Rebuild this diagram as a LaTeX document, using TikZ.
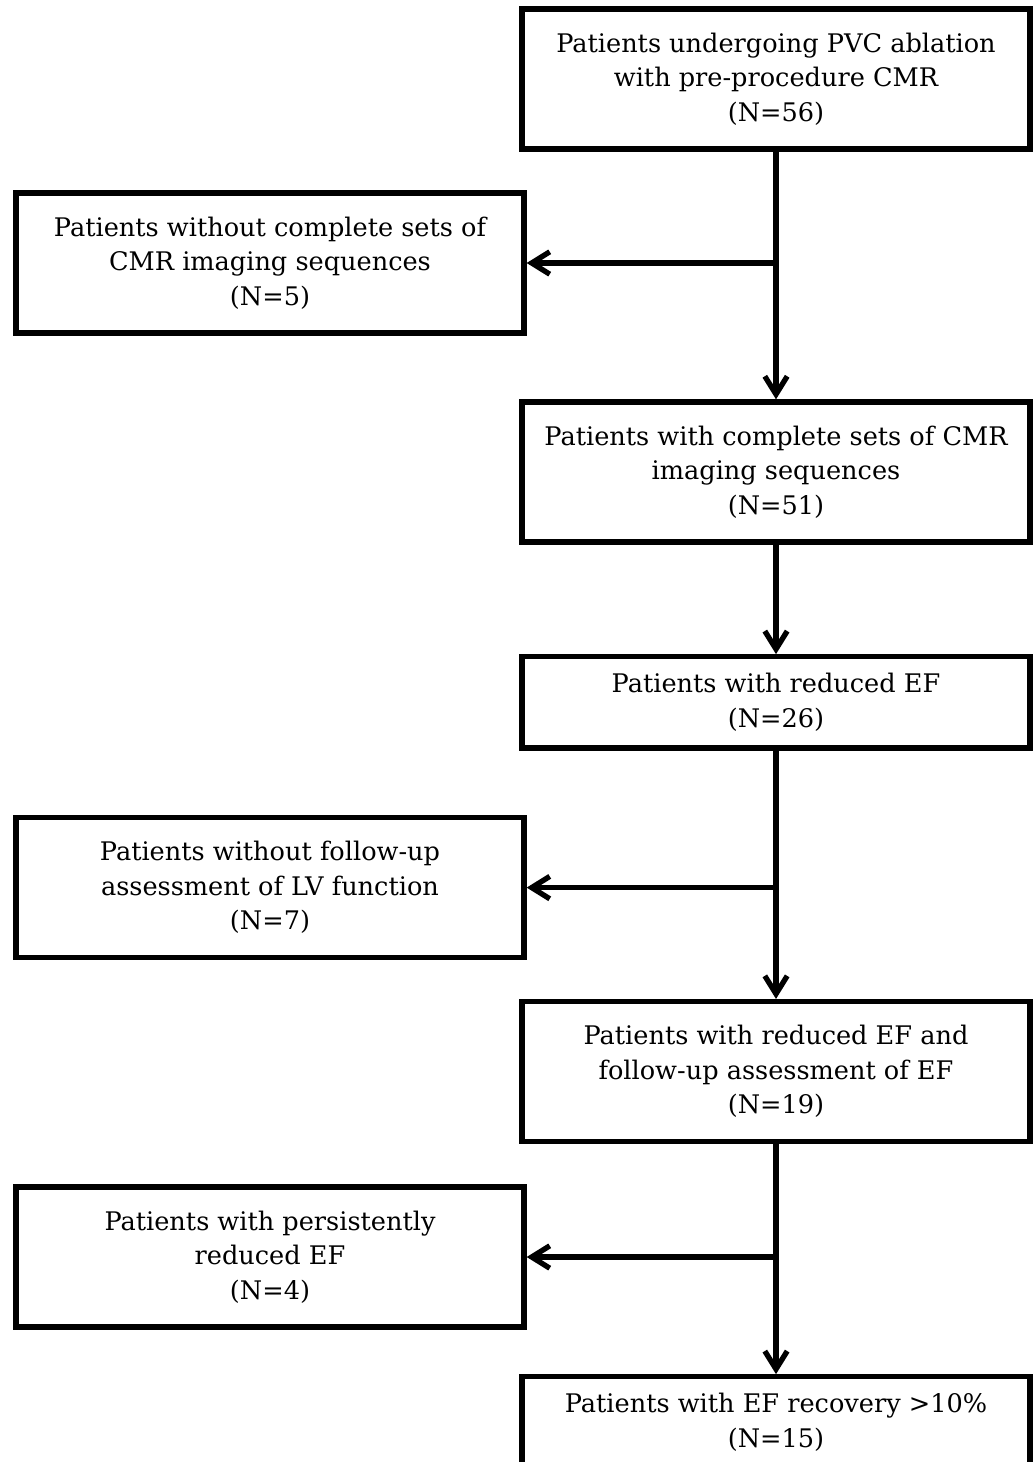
\documentclass[tikz,border=0pt]{standalone}
\usepackage{fontspec}
\setmainfont{DejaVu Serif}
\usetikzlibrary{arrows.meta}
\newcommand\boxWidth{12.7}
\newcommand\tallHeight{3.5}
\newcommand\shortHeight{2.28}
\newcommand\rightX{19.4}
\newcommand\leftX{6.75}
\newcommand\lineW{3.8pt}

\begin{document}
\begin{tikzpicture}[
    flowbox/.style={draw=black, line width=\lineW, fill=white, align=center,
      minimum width=\boxWidth cm, inner sep=0pt,
      font=\fontsize{18.2}{24.5}\selectfont},
    tallbox/.style={flowbox, minimum height=\tallHeight cm},
    shortbox/.style={flowbox, minimum height=\shortHeight cm},
    arr/.style={line width=\lineW, -{Straight Barb[length=0.45cm,width=0.56cm]}}
  ]
    \useasboundingbox (0,0) rectangle (25.8,-36.55);

    % main column
    \node[tallbox] (box1) at (\rightX,-1.975) {Patients undergoing PVC ablation\\with pre-procedure CMR\\(N=56)};
    \node[tallbox] (box3) at (\rightX,-11.8) {Patients with complete sets of CMR\\imaging sequences\\(N=51)};
    \node[shortbox] (box4) at (\rightX,-17.56) {Patients with reduced EF\\(N=26)};
    \node[tallbox] (box6) at (\rightX,-26.79) {Patients with reduced EF and\\follow-up assessment of EF\\(N=19)};
    \node[shortbox] (box8) at (\rightX,-35.56) {Patients with EF recovery >10\%\\(N=15)};

    % excluded patients
    \node[tallbox] (box2) at (\leftX,-6.575) {Patients without complete sets of\\CMR imaging sequences\\(N=5)};
    \node[tallbox] (box5) at (\leftX,-22.19) {Patients without follow-up\\assessment of LV function\\(N=7)};
    \node[tallbox] (box7) at (\leftX,-31.425) {Patients with persistently\\reduced EF\\(N=4)};

    % arrows down
    \foreach \src/\dst in {box1/box3, box3/box4, box4/box6, box6/box8}{
      \draw[arr] (\src.south) -- (\dst.north);
    }

    % arrows to the left
    \foreach \src/\dst in {box1/box2, box4/box5, box6/box7}{
      \draw[arr] (\src.south |- \dst.east) -- (\dst.east);
    }

\end{tikzpicture}
\end{document}
